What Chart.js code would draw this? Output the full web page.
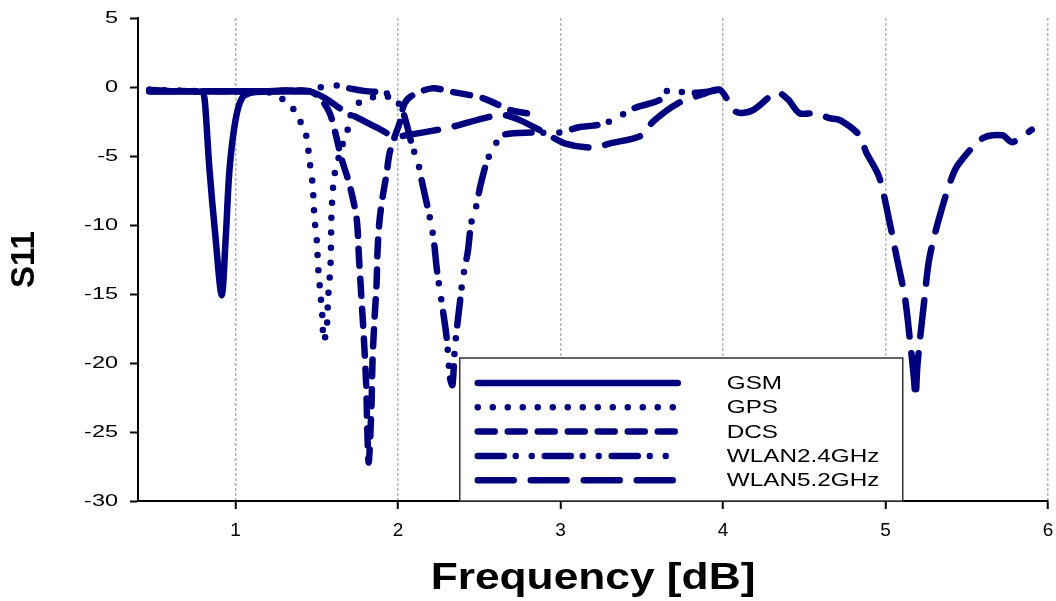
<!DOCTYPE html>
<html>
<head>
<meta charset="utf-8">
<script src="https://cdn.jsdelivr.net/npm/chart.js@4/dist/chart.umd.min.js"></script>
<style>
  html, body { margin: 0; padding: 0; background: #fff; }
  #wrap { width: 1056px; height: 601px; }
</style>
</head>
<body>
<div id="wrap"><canvas id="myChart" width="1056" height="601"></canvas></div>
<script>
'use strict';

// S11 curves, frequency / value pairs
var gsmF  = [0.47, 0.6, 0.7, 0.78, 0.8, 0.81, 0.82, 0.84, 0.877, 0.915, 0.94, 0.963, 1.0, 1.04, 1.1, 1.2, 1.3, 1.4, 1.45];
var gsmS  = [-0.2, -0.3, -0.3, -0.35, -0.4, -0.9, -2.4, -6, -10.9, -15.1, -10.9, -6, -2.4, -0.8, -0.4, -0.35, -0.3, -0.25, -0.3];

var gpsF  = [0.47, 0.8, 1.1, 1.25, 1.314, 1.38, 1.41, 1.437, 1.455, 1.474, 1.486, 1.5, 1.51, 1.523, 1.535, 1.542, 1.56, 1.57, 1.585, 1.59, 1.6, 1.61, 1.65, 1.69, 1.7, 1.745, 1.8, 1.87, 1.95];
var gpsS  = [-0.2, -0.3, -0.35, -0.5, -1.2, -1.9, -2.9, -3.6, -5.3, -7.0, -9.5, -11.1, -13.3, -15.0, -16.7, -18.4, -17.7, -15.3, -12.8, -9.5, -7.3, -6.3, -4.5, -3.1, -2.3, -1.3, -0.9, -0.7, -0.7];

var dcsF  = [0.47, 0.8, 1.2, 1.45, 1.52, 1.58, 1.62, 1.65, 1.7, 1.745, 1.76, 1.775, 1.79, 1.805, 1.81, 1.82, 1.837, 1.843, 1.855, 1.868, 1.874, 1.886, 1.905, 1.93, 1.948, 1.98, 2.01, 2.04, 2.09, 2.21, 2.33, 2.52, 2.7, 2.85];
var dcsS  = [-0.3, -0.3, -0.3, -0.3, -0.8, -1.9, -3.6, -5.1, -7.0, -9.5, -12.4, -15.3, -18.2, -21.8, -24.4, -27.2, -23.0, -19.9, -16.9, -14.3, -11.9, -9.7, -8.0, -6.25, -4.8, -3.6, -2.6, -1.2, -0.6, -0.1, -0.35, -0.8, -1.7, -2.0];

var wlan24F = [0.47, 0.8, 1.2, 1.45, 1.5, 1.55, 1.63, 1.7, 1.8, 1.9, 1.96, 2.02, 2.06, 2.09, 2.12, 2.15, 2.2, 2.22, 2.24, 2.27, 2.3, 2.32, 2.335, 2.35, 2.38, 2.4, 2.43, 2.45, 2.48, 2.51, 2.55, 2.59, 2.64, 2.83, 2.99, 3.12, 3.2, 3.28, 3.38, 3.46, 3.61, 3.67, 3.76, 3.86, 3.98];
var wlan24S = [-0.3, -0.3, -0.3, -0.3, -0.1, 0.05, 0.1, -0.1, -0.3, -0.4, -0.6, -1.5, -3.0, -4.4, -5.3, -7.0, -9.7, -11.1, -13.3, -15.7, -18.2, -21.1, -21.6, -18.9, -15.7, -13.8, -11.9, -9.9, -8.7, -7.0, -5.3, -4.4, -3.5, -3.3, -3.3, -2.9, -2.8, -2.6, -2.0, -1.5, -0.95, -0.15, -0.4, -0.4, -0.2];

var wlan52F = [0.47, 0.8, 1.2, 1.45, 1.55, 1.65, 1.78, 1.88, 1.98, 2.05, 2.2, 2.33, 2.42, 2.55, 2.64, 2.75, 2.9, 3.03, 3.2, 3.3, 3.5, 3.57, 3.72, 3.88, 3.98, 4.08, 4.18, 4.33, 4.4, 4.47, 4.57, 4.655, 4.72, 4.84, 4.88, 4.96, 5.02, 5.07, 5.12, 5.15, 5.175, 5.185, 5.197, 5.24, 5.27, 5.33, 5.41, 5.455, 5.6, 5.72, 5.78, 5.9];
var wlan52S = [-0.3, -0.3, -0.3, -0.3, -0.8, -1.6, -2.4, -3.0, -3.6, -3.5, -3.2, -2.9, -2.6, -2.2, -2.0, -2.4, -3.3, -4.1, -4.4, -4.1, -3.5, -2.5, -1.2, -0.5, -0.2, -1.8, -1.7, -0.4, -0.9, -1.9, -1.9, -2.25, -2.4, -3.5, -4.7, -6.5, -9.5, -12.4, -15.3, -18.3, -21.1, -22.5, -20.1, -15.3, -12.4, -9.5, -6.5, -5.5, -3.7, -3.5, -4.0, -3.1];

var seriesNames = ['GSM', 'GPS', 'DCS', 'WLAN2.4GHz', 'WLAN5.2GHz'];
var xTicks = [1, 2, 3, 4, 5, 6];
var yTicks = [5, 0, -5, -10, -15, -20, -25, -30];

var navy = '#00007f';
var dashes = [[], [0, 15], [17, 13], [26, 12, 0, 16, 0, 13], [36, 17]];
var FONT = '"Liberation Sans", Arial, sans-serif';

function pairs(f, s) {
  return f.map(function (v, i) { return { x: v, y: s[i] }; });
}

var allF = [gsmF, gpsF, dcsF, wlan24F, wlan52F];
var allS = [gsmS, gpsS, dcsS, wlan24S, wlan52S];

var datasets = seriesNames.map(function (name, i) {
  return {
    label: name,
    data: pairs(allF[i], allS[i]),
    showLine: true,
    borderColor: navy,
    borderWidth: 6.5,
    borderDash: dashes[i],
    borderCapStyle: 'round',
    borderJoinStyle: 'round',
    pointRadius: 0,
    tension: 0.3,
    fill: false
  };
});

// text stretched sideways like the original figure
function wideText(ctx, text, x, y, font, sx, align) {
  ctx.save();
  ctx.translate(x, y);
  ctx.scale(sx, 1);
  ctx.font = font;
  ctx.fillStyle = '#000';
  ctx.textAlign = align;
  ctx.textBaseline = 'middle';
  ctx.fillText(text, 0, 0);
  ctx.restore();
}

// axis labels, titles and the boxed legend
var figureText = {
  id: 'figureText',
  afterDraw: function (chart) {
    var ctx = chart.ctx;
    var a = chart.chartArea;
    var xs = chart.scales.x, ys = chart.scales.y;

    yTicks.forEach(function (v) {
      wideText(ctx, String(v), a.left - 20, ys.getPixelForValue(v), '17px ' + FONT, 1.38, 'right');
    });
    xTicks.forEach(function (v) {
      wideText(ctx, String(v), xs.getPixelForValue(v), a.bottom + 30, '19px ' + FONT, 1.0, 'center');
    });
    wideText(ctx, 'Frequency [dB]', (a.left + a.right) / 2, a.bottom + 78, 'bold 36px ' + FONT, 1.23, 'center');

    ctx.save();
    ctx.translate(25, (a.top + a.bottom) / 2);
    ctx.rotate(-Math.PI / 2);
    wideText(ctx, 'S11', 0, 0, 'bold 33px ' + FONT, 1.0, 'center');
    ctx.restore();

    var left = xs.getPixelForValue(2.38), top = a.bottom - 143, w = 443, h = 143;
    ctx.save();
    ctx.fillStyle = '#fff';
    ctx.fillRect(left, top, w, h);
    ctx.strokeStyle = '#333';
    ctx.lineWidth = 1.5;
    ctx.strokeRect(left, top, w, h);
    chart.data.datasets.forEach(function (ds, i) {
      var y = top + 25 + i * 24.3;
      ctx.beginPath();
      ctx.strokeStyle = ds.borderColor;
      ctx.lineWidth = 6.5;
      ctx.lineCap = 'round';
      ctx.setLineDash(ds.borderDash);
      ctx.moveTo(left + 18, y);
      ctx.lineTo(left + 218, y);
      ctx.stroke();
      ctx.setLineDash([]);
      wideText(ctx, ds.label, left + 267, y + 1, '18px ' + FONT, 1.35, 'left');
    });
    ctx.restore();
  }
};

var ctx = document.getElementById('myChart').getContext('2d');
var myChart = new Chart(ctx, {
  type: 'scatter',
  data: { datasets: datasets },
  options: {
    responsive: false,
    animation: false,
    layout: { padding: { left: 0, right: 8, top: 18, bottom: 0 } },
    plugins: {
      legend: { display: false },
      tooltip: { enabled: false }
    },
    scales: {
      x: {
        type: 'linear',
        min: 0.4,
        max: 6,
        afterBuildTicks: function (axis) {
          axis.ticks = xTicks.map(function (v) { return { value: v }; });
        },
        afterFit: function (axis) { axis.height = 100; },
        grid: {
          display: true,
          drawOnChartArea: true,
          color: '#b4b4b4',
          lineWidth: 1.5,
          drawTicks: true,
          tickLength: 8,
          tickColor: '#000',
          tickWidth: 2
        },
        border: { display: true, color: '#000', width: 2, dash: [3, 2] },
        ticks: { display: false }
      },
      y: {
        type: 'linear',
        min: -30,
        max: 5,
        afterBuildTicks: function (axis) {
          axis.ticks = yTicks.map(function (v) { return { value: v }; });
        },
        afterFit: function (axis) { axis.width = 138; },
        grid: {
          display: true,
          drawOnChartArea: false,
          drawTicks: true,
          tickLength: 8,
          tickColor: '#000',
          tickWidth: 2
        },
        border: { display: true, color: '#000', width: 2 },
        ticks: { display: false }
      }
    }
  },
  plugins: [figureText]
});
</script>
</body>
</html>
